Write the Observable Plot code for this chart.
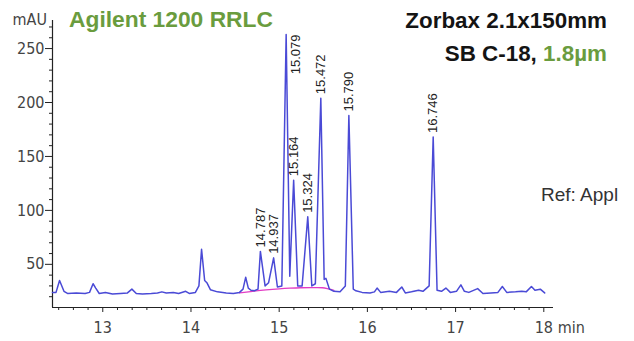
<!DOCTYPE html>
<html>
<head>
<meta charset="utf-8">
<script src="https://cdn.jsdelivr.net/npm/d3@7"></script>
<script src="https://cdn.jsdelivr.net/npm/@observablehq/plot@0.6"></script>
<style>
  html, body { margin: 0; padding: 0; background: #fff; }
  #chart svg { display: block; }
</style>
</head>
<body>
<div id="chart"></div>
<script>
// Labelled peaks: retention time (min) and apex height (mAU)
const peakTimes   = [14.787, 14.937, 15.079, 15.164, 15.324, 15.472, 15.790, 16.746];
const peakHeights = [62, 56, 263, 128, 94, 204, 188, 168];

// Remaining detector trace (baseline, minor peaks, valleys between labelled peaks)
const traceTimes = [
  12.43, 12.47, 12.51, 12.56, 12.60, 12.70, 12.80, 12.85, 12.89, 12.92, 12.96,
  13.03, 13.11, 13.20, 13.28, 13.33, 13.38, 13.45, 13.55, 13.62, 13.67, 13.72,
  13.80, 13.86, 13.94, 13.98, 14.05, 14.09, 14.12, 14.155, 14.18, 14.22, 14.30,
  14.40, 14.48, 14.55, 14.59, 14.62, 14.65, 14.68, 14.72, 14.76,
  14.84, 14.88, 14.98, 15.03, 15.12, 15.21, 15.26, 15.37, 15.41,
  15.51, 15.53, 15.57, 15.62, 15.69, 15.75, 15.84, 15.87, 15.94, 16.03, 16.08,
  16.11, 16.15, 16.25, 16.33, 16.39, 16.43, 16.50, 16.58, 16.63, 16.70,
  16.79, 16.84, 16.89, 16.94, 17.01, 17.06, 17.10, 17.15, 17.25, 17.31, 17.40,
  17.48, 17.53, 17.58, 17.68, 17.75, 17.80, 17.86, 17.90, 17.96, 18.01
];
const traceSignal = [
  24, 24, 35, 25, 23, 23.5, 23, 24, 32, 28, 23,
  24, 22.5, 23, 23.5, 27, 23, 22.5, 23, 23.5, 24.5, 23.5,
  24, 23, 25, 23, 24, 30, 64, 35, 33, 26.5, 24.5,
  23.5, 23, 24, 27, 38, 28, 26, 25.5, 27,
  30, 33, 29, 30, 39, 30, 30, 30, 32,
  36, 37, 27, 25, 24.5, 30, 27, 25.5, 24, 23.5, 24.5,
  28, 24, 25, 24, 29, 23.5, 24.5, 26, 25, 30,
  26, 25, 28, 24, 25, 31, 25, 24, 27.5, 23, 23.5,
  24, 29.5, 24, 24.5, 25, 24.5, 29.5, 26, 27, 23.5
];

// Integration baseline drawn under the peak cluster
const integrationTimes  = [14.55, 14.70, 14.85, 15.00, 15.12, 15.24, 15.36, 15.49, 15.56, 15.62];
const integrationSignal = [23.5, 25, 26.3, 27.3, 27.9, 28.3, 28.4, 28.3, 27.2, 25.8];

// Axis ticks
const xTicks = [13, 14, 15, 16, 17, 18];
const yTicks = [50, 100, 150, 200, 250];
const xDomain = [12.43, 18.11];
const yDomain = [10, 276];

const trace = traceTimes.map((t, i) => ({t, v: traceSignal[i]}))
  .concat(peakTimes.map((t, i) => ({t, v: peakHeights[i]})))
  .sort((a, b) => a.t - b.t);
const peaks = peakTimes.map((t, i) => ({t, v: peakHeights[i], label: t.toFixed(3)}));
const integration = integrationTimes.map((t, i) => ({t, v: integrationSignal[i]}));
const tallest = d3.max(peakHeights);

const xMinor = d3.range(12.5, 18.05, 1 / 6).filter(d => Math.abs(d - Math.round(d)) > 0.01);
const yMinor = d3.range(20, 276, 10).filter(d => d % 50 !== 0);

const narrow = "'Liberation Sans Narrow', 'DejaVu Sans Condensed', 'Liberation Sans', sans-serif";
const sans = "'Liberation Sans', Arial, sans-serif";
const axisColor = "#222";

const chart = Plot.plot({
  width: 634,
  height: 341,
  marginLeft: 52,
  marginRight: 81,
  marginTop: 20,
  marginBottom: 34,
  style: {fontFamily: narrow, fontSize: "16px", color: "#444", background: "#fff"},
  x: {domain: xDomain},
  y: {domain: yDomain},
  marks: [
    Plot.axisY(yMinor, {tickSize: 3, text: null, label: null, stroke: axisColor}),
    Plot.axisY(yTicks, {tickSize: 7, tickPadding: 1, label: null, stroke: axisColor, fill: "#444"}),
    Plot.axisX(xMinor, {tickSize: 3, text: null, label: null, stroke: axisColor}),
    Plot.axisX(xTicks, {tickSize: 5, tickPadding: 9, label: null, stroke: axisColor, fill: "#444"}),
    Plot.text(["min"], {x: () => 18, y: () => yDomain[0], dx: 14, dy: 14, lineAnchor: "top", textAnchor: "start", fill: "#444", fontSize: 16}),
    Plot.ruleY([yDomain[0]], {stroke: axisColor, strokeWidth: 1.2}),
    Plot.ruleX([xDomain[0]], {stroke: axisColor, strokeWidth: 1.2}),
    Plot.line(integration, {x: "t", y: "v", stroke: "#e23cc4", strokeWidth: 1.3, curve: "monotone-x"}),
    Plot.line(trace, {x: "t", y: "v", stroke: "#4a4ad6", strokeWidth: 1.5, strokeLinejoin: "round"}),
    // Retention-time labels, written upward from just above each apex
    Plot.text(peaks.filter(d => d.v < tallest), {
      x: "t", y: "v", text: "label", rotate: -90, textAnchor: "start",
      dy: -4, fill: "#222", fontFamily: sans, fontSize: 13
    }),
    // The tallest peak reaches the top of the frame, so its label hangs beside it
    Plot.text(peaks.filter(d => d.v === tallest), {
      x: "t", y: "v", text: "label", rotate: -90, textAnchor: "end",
      dx: 10, fill: "#222", fontFamily: sans, fontSize: 13
    })
  ]
});

document.getElementById("chart").appendChild(chart);

// Annotations: instrument, column and reference notes
const svg = d3.select(chart);
const green = "#6a9c3e";

svg.append("text")
  .attr("x", 47).attr("y", 25).attr("text-anchor", "end")
  .attr("font-family", narrow).attr("font-size", 16).attr("fill", "#444")
  .text("mAU");

svg.append("text")
  .attr("x", 69).attr("y", 27).attr("text-anchor", "start")
  .attr("font-family", sans).attr("font-size", 22.8).attr("font-weight", "bold").attr("fill", green)
  .text("Agilent 1200 RRLC");

svg.append("text")
  .attr("x", 607).attr("y", 28).attr("text-anchor", "end")
  .attr("font-family", sans).attr("font-size", 22.4).attr("font-weight", "bold").attr("fill", "#141414")
  .text("Zorbax 2.1x150mm");

const col = svg.append("text")
  .attr("x", 607).attr("y", 61).attr("text-anchor", "end")
  .attr("font-family", sans).attr("font-size", 22.4).attr("font-weight", "bold").attr("fill", "#141414");
col.append("tspan").text("SB C-18, ");
col.append("tspan").attr("fill", green).text("1.8µm");

svg.append("text")
  .attr("x", 541).attr("y", 201).attr("text-anchor", "start")
  .attr("font-family", sans).attr("font-size", 19).attr("fill", "#333")
  .text("Ref: Appl");
</script>
</body>
</html>
